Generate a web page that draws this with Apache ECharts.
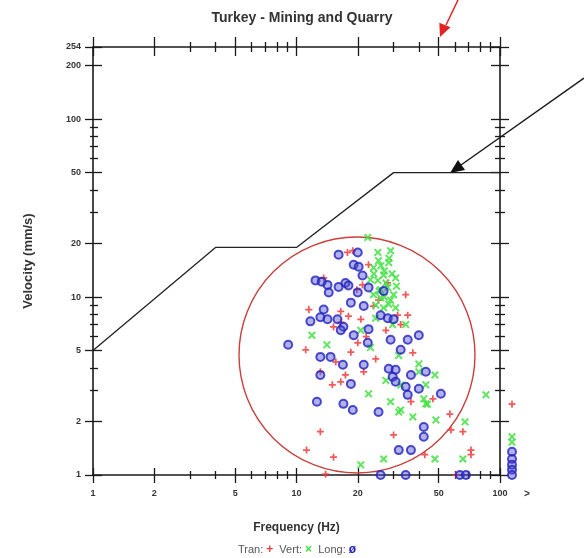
<!DOCTYPE html>
<html><head><meta charset="utf-8">
<script src="https://cdn.jsdelivr.net/npm/echarts@6/dist/echarts.min.js"></script>
<style>html,body{margin:0;padding:0;background:#fff}#c{width:584px;height:558px}</style>
</head><body><div id="c"></div>
<script>
const titleText = 'Turkey - Mining and Quarry';
const xTitle = 'Frequency (Hz)';
const yTitle = 'Velocity (mm/s)';
const xMajorTicks = [1, 2, 5, 10, 20, 50, 100];
const xMinorTicks = [3, 4, 6, 7, 8, 9, 30, 40, 60, 70, 80, 90];
const yMajorTicks = [1, 2, 5, 10, 20, 50, 100, 200, 254];
const yMinorTicks = [3, 4, 6, 7, 8, 9, 30, 40, 60, 70, 80, 90];
const overLabel = ['>'];

const limitFreq = [1, 4, 10, 30, 100];
const limitVel = [5, 19, 19, 50, 50];

const tranFreq = [13.6, 11.5, 11.1, 17.8, 18.9, 16.5, 16.5, 15.2, 22.6, 34.4, 35.2, 20.0, 31.4, 23.9, 18.0, 15.6, 17.4, 15.0, 16.5, 30.0, 15.2, 24.5, 21.4, 36.5, 13.1, 11.2, 13.9, 46.8, 56.7, 57.4, 65.7, 72.0, 72.0, 60.7, 42.7, 21.1, 27.5, 32.5, 20.7, 25.3, 18.5, 37.3, 13.1, 19.8, 28.0, 22.0];
const tranVel  = [12.8, 8.5, 5.05, 17.8, 18.2, 8.3, 7.2, 6.8, 15.2, 10.3, 7.9, 5.53, 7.9, 8.9, 7.8, 4.32, 3.65, 3.21, 3.34, 1.68, 1.26, 4.49, 3.80, 2.58, 1.75, 1.38, 1.01, 2.68, 2.20, 1.79, 1.75, 1.38, 1.30, 1.0, 1.30, 11.7, 6.5, 7.0, 7.5, 9.6, 4.9, 4.86, 3.80, 11.0, 12.0, 6.0];

const vertFreq = [22.4, 25.1, 29.0, 23.9, 26.8, 25.1, 28.1, 30.0, 25.9, 28.4, 30.7, 29.7, 26.8, 23.9, 25.3, 28.4, 11.9, 14.1, 22.6, 29.0, 31.8, 37.3, 39.9, 42.2, 26.8, 20.7, 39.9, 47.9, 43.2, 43.2, 48.4, 67.3, 85.3, 47.9, 65.7, 23.1, 27.5, 25.9, 30.7, 24.5, 34.4, 20.7, 31.8, 23.1, 32.5, 27.5, 32.5, 44.0, 24.0, 27.0, 29.5, 25.5, 27.0, 29.0, 24.5, 31.0, 26.0, 28.5];
const vertVel  = [21.6, 17.8, 18.2, 14.6, 13.3, 12.4, 11.3, 10.3, 9.9, 9.1, 8.7, 7.0, 8.7, 10.3, 16.0, 15.6, 6.1, 5.39, 2.86, 2.58, 2.26, 2.12, 4.21, 2.68, 1.23, 1.14, 3.80, 3.65, 3.21, 2.51, 2.04, 1.99, 2.82, 1.23, 1.23, 12.5, 12.0, 11.0, 12.8, 7.6, 7.0, 6.5, 4.7, 5.2, 3.2, 3.4, 2.32, 2.5, 13.5, 14.0, 13.5, 10.8, 10.0, 9.6, 9.0, 11.5, 15.0, 16.5];

const longFreq = [9.1, 12.4, 13.3, 14.2, 16.1, 17.4, 14.4, 13.6, 13.1, 11.7, 14.2, 15.9, 17.0, 16.1, 20.0, 19.1, 20.2, 21.1, 18.0, 20.0, 22.6, 26.8, 18.5, 21.4, 25.9, 28.1, 30.0, 16.5, 19.1, 22.6, 29.0, 35.2, 39.9, 22.4, 32.5, 13.1, 14.7, 16.9, 21.4, 28.4, 30.7, 29.7, 30.7, 36.5, 34.4, 35.2, 39.9, 18.5, 17.0, 18.9, 25.3, 42.2, 42.2, 31.8, 36.5, 25.9, 34.4, 13.1, 12.6, 43.2, 51.2, 63.5, 68.0];
const longVel  = [5.39, 12.4, 12.2, 11.7, 11.4, 12.0, 10.6, 8.5, 7.7, 7.3, 7.5, 7.5, 6.8, 17.3, 17.8, 15.2, 14.8, 13.2, 11.6, 10.6, 11.3, 10.8, 9.3, 8.9, 7.9, 7.6, 7.5, 6.5, 6.1, 6.6, 5.75, 5.75, 6.1, 5.53, 5.05, 4.61, 4.61, 4.16, 4.16, 3.95, 3.90, 3.56, 3.34, 3.65, 3.13, 2.82, 3.05, 3.25, 2.51, 2.32, 2.26, 1.86, 1.64, 1.38, 1.38, 1.0, 1.0, 3.65, 2.58, 3.80, 2.86, 1.0, 1.0];

// readings with frequency above 100 Hz (plotted in the ">" column)
const overTranVel = [2.5];
const overVertVel = [1.64, 1.53];
const overLongVel = [1.35, 1.23, 1.14, 1.07, 1.0];

const RED = '#f03c3c', GREEN = '#44e044', BLUE = '#2222c0';
const PLUS = 'path://M3,0H5V3H8V5H5V8H3V5H0V3H3Z';
const CROSS = 'path://M0,1.4L1.4,0L4,2.6L6.6,0L8,1.4L5.4,4L8,6.6L6.6,8L4,5.4L1.4,8L0,6.6L2.6,4Z';
const FONT = 'Liberation Sans, Arial, sans-serif';

const zip = (a, b) => a.map((v, i) => [v, b[i]]);
const lab = {color: '#333', fontSize: 9, fontWeight: 'bold', fontFamily: FONT};
const fmt = v => String(Math.round(v));

function tickAxes(kind, position, lens, first) {
  const major = kind === 'x' ? xMajorTicks : yMajorTicks;
  const minor = kind === 'x' ? xMinorTicks : yMinorTicks;
  const range = kind === 'x' ? {min: 1, max: 100} : {min: 1, max: 254};
  const mk = (vals, inside, len, isFirst) => Object.assign({
    type: 'log', logBase: 10, gridIndex: 0, position: position, offset: 0,
    min: range.min, max: range.max, silent: true,
    axisLine: {show: isFirst, onZero: false, lineStyle: {color: '#1a1a1a', width: 1.6}},
    axisTick: {show: true, inside: inside, length: len, customValues: vals, lineStyle: {color: '#1a1a1a', width: 1.3}},
    axisLabel: Object.assign({show: isFirst && !!first, customValues: major, formatter: fmt, margin: kind === 'x' ? 14 : 12}, lab),
    splitLine: {show: false}, minorTick: {show: false}, minorSplitLine: {show: false}
  }, isFirst && first ? first : {});
  return [mk(major, false, lens[0], true), mk(major, true, lens[1], false), mk(minor, false, lens[2], false), mk(minor, true, lens[3], false)];
}

const xAxes = [].concat(
  tickAxes('x', 'bottom', [8, 7, 4, 4], {name: xTitle, nameLocation: 'middle', nameGap: 47,
    nameTextStyle: {fontSize: 12, fontWeight: 'bold', color: '#333', fontFamily: FONT}}),
  tickAxes('x', 'top', [10, 9, 5, 5], null),
  [{type: 'category', gridIndex: 1, data: overLabel, position: 'bottom',
    axisLine: {show: false}, axisTick: {show: false},
    axisLabel: Object.assign({margin: 14, padding: [0, 0, 0, 30]}, lab, {fontSize: 10})}]
);
const yAxes = [].concat(
  tickAxes('y', 'left', [8, 9, 3, 5], {name: yTitle, nameLocation: 'middle', nameGap: 58, nameRotate: 90,
    nameTextStyle: {fontSize: 13, fontWeight: 'bold', color: '#333', fontFamily: FONT}}),
  tickAxes('y', 'right', [9, 9, 5, 5], null),
  [{type: 'log', logBase: 10, gridIndex: 1, min: 1, max: 254, show: false}]
);

const chart = echarts.init(document.getElementById('c'), null, {renderer: 'canvas'});
chart.setOption({
  backgroundColor: '#ffffff',
  animation: false,
  title: [
    {text: titleText, left: 297, top: 6, textAlign: 'center',
     textStyle: {fontSize: 14, fontWeight: 'bold', color: '#333', fontFamily: FONT}},
    {text: 'Tran: {r|+}  Vert: {g|×}  Long: {b|ø}', left: 292, top: 539, textAlign: 'center',
     textStyle: {fontSize: 11, fontWeight: 'normal', color: '#555', fontFamily: FONT,
       rich: {r: {color: RED, fontSize: 12, fontWeight: 'bold'}, g: {color: GREEN, fontSize: 12, fontWeight: 'bold'}, b: {color: BLUE, fontSize: 12, fontWeight: 'bold'}}}}
  ],
  grid: [
    {left: 93, top: 47, width: 407, height: 428, containLabel: false},
    {left: 504, top: 47, width: 16, height: 428, containLabel: false}
  ],
  xAxis: xAxes,
  yAxis: yAxes,
  graphic: [
    {type: 'circle', shape: {cx: 357, cy: 355, r: 118}, z: 1, silent: true,
     style: {fill: 'none', stroke: '#c8403c', lineWidth: 1.4}},
    {type: 'polyline', shape: {points: [[458, 0], [446, 25]]}, z: 100, silent: true,
     style: {stroke: '#e02424', lineWidth: 1.5, fill: 'none'}},
    {type: 'polygon', shape: {points: [[440, 37], [450.5, 27.2], [439.3, 22.7]]}, z: 100, silent: true,
     style: {fill: '#e02424'}},
    {type: 'polyline', shape: {points: [[584, 78], [461, 165]]}, z: 100, silent: true,
     style: {stroke: '#1a1a1a', lineWidth: 1.5, fill: 'none'}},
    {type: 'polygon', shape: {points: [[450, 173], [465, 170], [458, 160]]}, z: 100, silent: true,
     style: {fill: '#111'}}
  ],
  series: [
    {type: 'line', name: 'limit', data: zip(limitFreq, limitVel), xAxisIndex: 0, yAxisIndex: 0,
     symbol: 'none', lineStyle: {color: '#222', width: 1.3}, z: 3},
    {type: 'scatter', name: 'Tran', data: zip(tranFreq, tranVel), xAxisIndex: 0, yAxisIndex: 0,
     symbol: PLUS, symbolSize: 7, itemStyle: {color: RED, opacity: 0.85}, z: 4},
    {type: 'scatter', name: 'Vert', data: zip(vertFreq, vertVel), xAxisIndex: 0, yAxisIndex: 0,
     symbol: CROSS, symbolSize: 8, itemStyle: {color: GREEN, opacity: 0.85}, z: 5},
    {type: 'scatter', name: 'Long', data: zip(longFreq, longVel), xAxisIndex: 0, yAxisIndex: 0,
     symbol: 'circle', symbolSize: 8, itemStyle: {color: 'rgba(80,80,210,0.55)', borderColor: BLUE, borderWidth: 2}, z: 6},
    {type: 'scatter', name: 'Tran >100', data: overTranVel.map(v => [overLabel[0], v]), xAxisIndex: 8, yAxisIndex: 8,
     symbol: PLUS, symbolSize: 7, itemStyle: {color: RED, opacity: 0.85}},
    {type: 'scatter', name: 'Vert >100', data: overVertVel.map(v => [overLabel[0], v]), xAxisIndex: 8, yAxisIndex: 8,
     symbol: CROSS, symbolSize: 8, itemStyle: {color: GREEN, opacity: 0.85}},
    {type: 'scatter', name: 'Long >100', data: overLongVel.map(v => [overLabel[0], v]), xAxisIndex: 8, yAxisIndex: 8,
     symbol: 'circle', symbolSize: 8, clip: false, itemStyle: {color: 'rgba(80,80,210,0.55)', borderColor: BLUE, borderWidth: 2}}
  ]
});
</script>
</body></html>
